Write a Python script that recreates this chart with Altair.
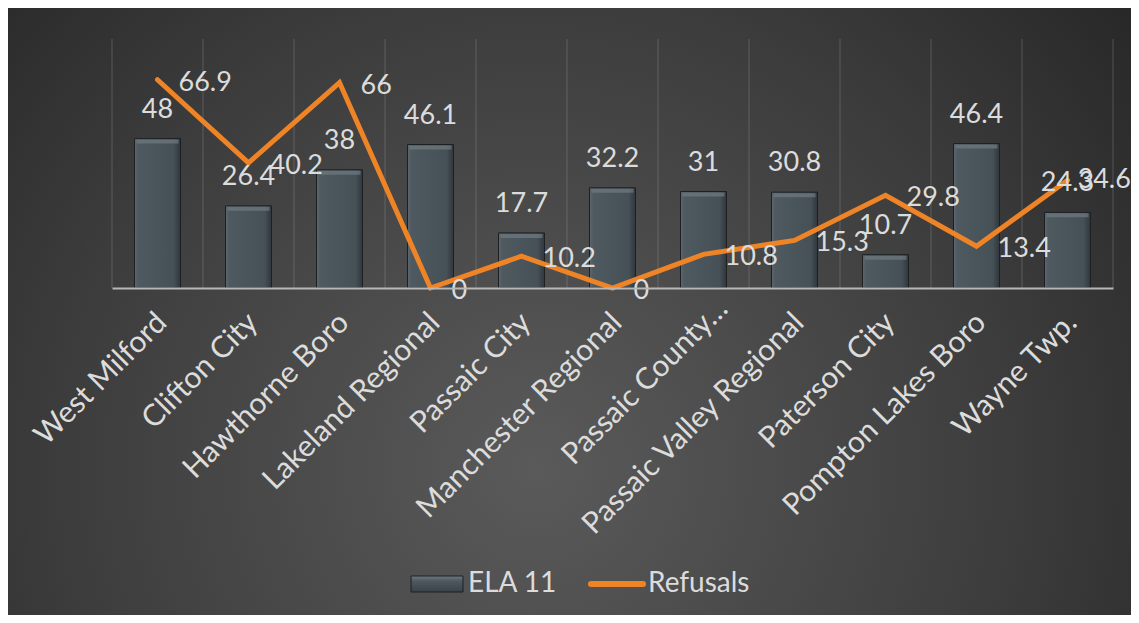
import altair as alt
import pandas as pd

# ---------------- data ----------------
categories = [
    "West Milford", "Clifton City", "Hawthorne Boro", "Lakeland Regional",
    "Passaic City", "Manchester Regional", "Passaic County\u2026",
    "Passaic Valley Regional", "Paterson City", "Pompton Lakes Boro", "Wayne Twp.",
]
ela11 = [48, 26.4, 38, 46.1, 17.7, 32.2, 31, 30.8, 10.7, 46.4, 24.3]
refusals = [66.9, 40.2, 66, 0, 10.2, 0, 10.8, 15.3, 29.8, 13.4, 34.6]

df = pd.DataFrame({"district": categories, "ela": ela11, "ref": refusals})
one = pd.DataFrame({"k": [0]})

# ---------------- layout / style ----------------
W, H = 1001, 249
PL, PT, PR, PB = 104, 31, 18, 327
FONT = "Lato"
TXT = "#dcdcdc"
ORANGE = "#EF8427"

yscale = alt.Scale(domain=[0, 80], nice=False, zero=True)
xscale = alt.Scale(paddingInner=0, paddingOuter=0)
is_trunc = "datum.value == '" + categories[6] + "'"
xaxis = alt.Axis(
    title=None, labelAngle=-45, labelFont=FONT, labelFontSize=30,
    labelColor=TXT, ticks=False, domainColor="#b8b8b8", domainWidth=2,
    labelOffset={"condition": {"test": is_trunc, "value": 9}, "value": -6},
    labelPadding={"condition": {"test": is_trunc, "value": 5}, "value": 19},
    grid=False, labelLimit=500, labelOverlap=False, zindex=1,
)

x = alt.X("district:N", sort=categories, scale=xscale, axis=xaxis)

base = alt.Chart(df)

# background panel with radial gradient
bg = alt.Chart(one).mark_rect(
    fill={
        "gradient": "radial",
        "x1": 0.47, "y1": 0.64, "r1": 0,
        "x2": 0.47, "y2": 0.64, "r2": 0.78,
        "stops": [
            {"offset": 0, "color": "#5a5a5a"},
            {"offset": 0.55, "color": "#3c3c3c"},
            {"offset": 1, "color": "#1f1f1f"},
        ],
    }
).encode(
    x=alt.value(-PL), x2=alt.value(W + PR),
    y=alt.value(-PT), y2=alt.value(H + PB),
)

bars = base.mark_bar(
    size=46,
    fill={
        "gradient": "linear", "x1": 0, "y1": 0, "x2": 1, "y2": 0,
        "stops": [
            {"offset": 0, "color": "#5d6870"},
            {"offset": 0.08, "color": "#4e5960"},
            {"offset": 0.85, "color": "#465057"},
            {"offset": 1, "color": "#30373c"},
        ],
    },
    stroke="#1c2023", strokeWidth=1,
).encode(x=x, y=alt.Y("ela:Q", scale=yscale, axis=None))

# vertical category gridlines at band edges
grid = base.mark_rule(color="#9a9a9a", strokeWidth=1, opacity=0.35).encode(
    x=alt.X("district:N", sort=categories, scale=xscale, bandPosition=0, axis=xaxis)
)
grid_end = alt.Chart(one).mark_rule(color="#9a9a9a", strokeWidth=1, opacity=0.35).encode(
    x=alt.value(W)
)

bevel = base.mark_tick(size=42, thickness=4, color="#6f7a81", yOffset=3).encode(
    x=x, y=alt.Y("ela:Q", scale=yscale, axis=None)
)

line = base.mark_line(
    color=ORANGE, strokeWidth=5, strokeCap="round", strokeJoin="miter"
).encode(x=x, y=alt.Y("ref:Q", scale=yscale, axis=None))

bar_labels = base.mark_text(
    font=FONT, fontSize=27, color=TXT, align="center", baseline="middle", dy=-29
).encode(x=x, y=alt.Y("ela:Q", scale=yscale, axis=None), text=alt.Text("ela:Q"))

line_labels = base.transform_filter(
    alt.datum.district != "Wayne Twp."
).mark_text(
    font=FONT, fontSize=27, color=TXT, align="left", baseline="middle", dx=21, dy=3
).encode(x=x, y=alt.Y("ref:Q", scale=yscale, axis=None), text=alt.Text("ref:Q"))

line_labels_last = base.transform_filter(
    alt.datum.district == "Wayne Twp."
).mark_text(
    font=FONT, fontSize=27, color=TXT, align="left", baseline="middle", dx=10, dy=0
).encode(x=x, y=alt.Y("ref:Q", scale=yscale, axis=None), text=alt.Text("ref:Q"))

# legend (drawn manually, centred under the plot)
leg_y = 545
leg_bar = alt.Chart(one).mark_rect(
    fill={
        "gradient": "linear", "x1": 0, "y1": 0, "x2": 0, "y2": 1,
        "stops": [
            {"offset": 0, "color": "#6f7a81"},
            {"offset": 0.3, "color": "#4e5960"},
            {"offset": 1, "color": "#3a4248"},
        ],
    },
    stroke="#1c2023", strokeWidth=1,
).encode(x=alt.value(299), x2=alt.value(351), y=alt.value(leg_y - 8), y2=alt.value(leg_y + 8))
leg_t1 = alt.Chart(one).mark_text(
    text="ELA 11", font=FONT, fontSize=28, color=TXT, align="left", baseline="middle"
).encode(x=alt.value(356), y=alt.value(leg_y))
leg_line = alt.Chart(one).mark_rule(color=ORANGE, strokeWidth=6, strokeCap="round").encode(
    x=alt.value(479), x2=alt.value(531), y=alt.value(leg_y)
)
leg_t2 = alt.Chart(one).mark_text(
    text="Refusals", font=FONT, fontSize=28, color=TXT, align="left", baseline="middle"
).encode(x=alt.value(536), y=alt.value(leg_y))

chart = alt.layer(
    bg, bars, grid, grid_end, bevel, line, bar_labels, line_labels, line_labels_last,
    leg_bar, leg_t1, leg_line, leg_t2,
).properties(
    width=W, height=H,
    autosize=alt.AutoSizeParams(type="none"),
    padding={"left": PL, "top": PT, "right": PR, "bottom": PB},
).configure_view(stroke=None).configure(background="white")

chart.save("out.html", embed_options={"renderer": "svg", "actions": False})
